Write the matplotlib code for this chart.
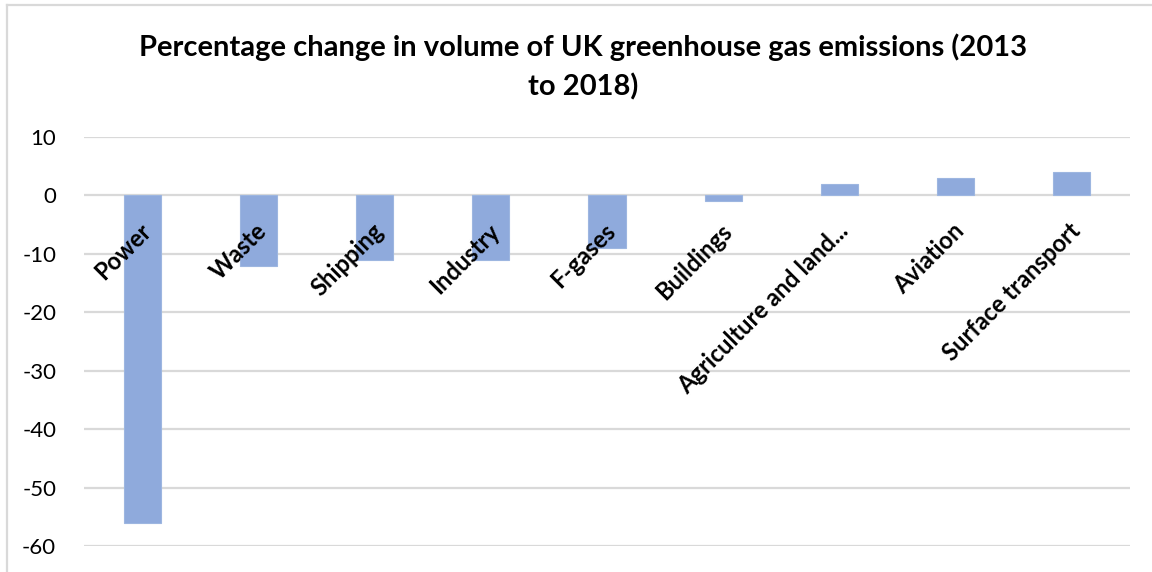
import matplotlib.pyplot as plt
from matplotlib.lines import Line2D

sectors = ["Power", "Waste", "Shipping", "Industry", "F-gases", "Buildings",
           "Agriculture and land...", "Aviation", "Surface transport"]
pct_change = [-56, -12, -11, -11, -9, -1, 2, 3, 4]
yticks = [10, 0, -10, -20, -30, -40, -50, -60]
title_lines = ["Percentage change in volume of UK greenhouse gas emissions (2013",
               "to 2018)"]

bar_color = "#8FAADC"
grid_color = "#D9D9D9"
font = "Lato"

W, H = 1152, 572
fig = plt.figure(figsize=(W / 100, H / 100), dpi=100)
ax = fig.add_axes([84 / W, 1 - 546 / H, (1130 - 84) / W, (546 - 137) / H])

x = list(range(len(sectors)))
ax.bar(x, pct_change, width=0.32, color=bar_color, edgecolor="#9DB6E0",
       linewidth=0.8, zorder=3)

ax.set_xlim(-0.5, len(sectors) - 0.5)
ax.set_ylim(-60, 10)
ax.set_yticks(yticks)
ax.set_yticklabels([str(v) for v in yticks], fontfamily=font, fontsize=16)
ax.tick_params(axis="y", length=0, pad=20)
ax.set_xticks([])
for s in ax.spines.values():
    s.set_visible(False)
for v in yticks:
    ax.axhline(v, color=grid_color, lw=1.6, zorder=1)

# category labels hang just below the zero line, rotated 45 degrees
for xi, name in zip(x, sectors):
    ax.annotate(name, xy=(xi, 0), xytext=(5, -32), textcoords="offset pixels",
                rotation=45, rotation_mode="anchor", ha="right", va="center",
                fontfamily=font, fontweight="bold", fontsize=17, zorder=4)

for i, line in enumerate(title_lines):
    fig.text(583 / W, 1 - (47 + 40 * i) / H, line, ha="center", va="center",
             fontfamily=font, fontweight="bold", fontsize=21)

# chart frame
fig.add_artist(Line2D([7 / W, 7 / W], [0, 1 - 5 / H], color=grid_color, lw=1.6))
fig.add_artist(Line2D([7 / W, 1], [1 - 5 / H, 1 - 5 / H], color=grid_color, lw=1.6))

fig.savefig("out.png", dpi=100, facecolor="white")
